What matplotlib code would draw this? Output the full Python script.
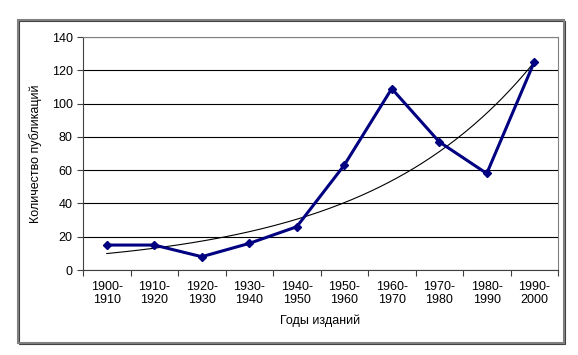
import numpy as np
import matplotlib
matplotlib.use("Agg")
import matplotlib.pyplot as plt
from matplotlib.patches import Rectangle

# данные
periods = ["1900-\n1910", "1910-\n1920", "1920-\n1930", "1930-\n1940", "1940-\n1950",
           "1950-\n1960", "1960-\n1970", "1970-\n1980", "1980-\n1990", "1990-\n2000"]
counts = [15, 15, 8, 16, 26, 63, 109, 77, 58, 125]

plt.rcParams['font.family'] = ['Liberation Sans', 'DejaVu Sans']

fig = plt.figure(figsize=(5.78, 3.55), dpi=100)

# рамка вокруг диаграммы
fig.patches.append(Rectangle((0.031, 0.034), 0.945, 0.91, transform=fig.transFigure,
                             fill=False, edgecolor="#808080", linewidth=1.5))
fig.patches.append(Rectangle((0.033, 0.031), 0.945, 0.91, transform=fig.transFigure,
                             fill=False, edgecolor="#404040", linewidth=0.8, zorder=-1))

ax = fig.add_axes([0.1436, 0.2394, 0.8218, 0.6563])

x = np.arange(1, len(counts) + 1)

# экспоненциальная линия тренда (как в Excel)
b, ln_a = np.polyfit(x, np.log(counts), 1)
xt = np.linspace(1, len(counts), 200)
ax.plot(xt, np.exp(ln_a + b * xt), color="black", linewidth=0.8, zorder=3)

ax.plot(x, counts, color="#000080", linewidth=2.2, marker="D", markersize=4.5, zorder=4)

ax.set_xlim(0.5, len(counts) + 0.5)
ax.set_ylim(0, 140)
ax.set_yticks(range(0, 141, 20))
ax.yaxis.grid(True, color="black", linewidth=0.8)
ax.set_axisbelow(True)

ax.set_xticks(np.arange(0.5, len(counts) + 1, 1))
ax.set_xticklabels([])
ax.set_xticks(x, minor=True)
ax.set_xticklabels(periods, minor=True, fontsize=9, linespacing=1.15)
ax.tick_params(axis="x", which="minor", length=0, pad=8)
ax.tick_params(axis="x", which="major", length=4, direction="out", color="#404040")
ax.tick_params(axis="y", length=4, direction="out", labelsize=9, color="#404040")

for s in ["top", "right"]:
    ax.spines[s].set_color("#808080")
for s in ["left", "bottom"]:
    ax.spines[s].set_color("#404040")

ax.set_xlabel("Годы изданий", fontsize=9, labelpad=6)
ax.set_ylabel("Количество публикаций", fontsize=9, labelpad=7)

plt.savefig("out.png", dpi=100)
